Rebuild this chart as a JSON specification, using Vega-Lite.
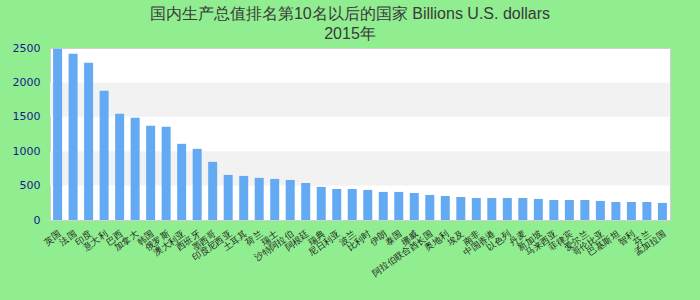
{
  "$schema": "https://vega.github.io/schema/vega-lite/v6.json",
  "width": 620,
  "height": 172,
  "autosize": "none",
  "padding": {"left": 50, "top": 48, "right": 30, "bottom": 80},
  "background": "#90EE90",
  "title": {
    "text": ["国内生产总值排名第10名以后的国家 Billions U.S. dollars", "2015年"],
    "font": "Liberation Sans",
    "fontSize": 16,
    "fontWeight": "normal",
    "color": "#3a3a3a",
    "lineHeight": 20,
    "anchor": "middle",
    "dx": -10,
    "offset": 0
  },
  "config": {
    "view": {"stroke": "#d0d0d0", "strokeWidth": 1, "fill": "white"},
    "font": "DejaVu Sans",
    "axisY": {
      "title": null,
      "grid": false,
      "domain": false,
      "ticks": false,
      "values": [0, 500, 1000, 1500, 2000, 2500],
      "format": "d",
      "labelOverlap": false,
      "labelColor": "#1a1a8a",
      "labelFontSize": 11,
      "labelPadding": 10
    }
  },
  "datasets": {
    "bands": [{"lo": 500, "hi": 1000}, {"lo": 1500, "hi": 2000}],
    "gdp": [
      {"country": "英国", "value": 2490},
      {"country": "法国", "value": 2417},
      {"country": "印度", "value": 2286},
      {"country": "意大利", "value": 1878},
      {"country": "巴西", "value": 1544},
      {"country": "加拿大", "value": 1485},
      {"country": "韩国", "value": 1369},
      {"country": "俄罗斯", "value": 1354},
      {"country": "澳大利亚", "value": 1107},
      {"country": "西班牙", "value": 1034},
      {"country": "墨西哥", "value": 845},
      {"country": "印度尼西亚", "value": 655},
      {"country": "土耳其", "value": 641},
      {"country": "荷兰", "value": 612},
      {"country": "瑞士", "value": 597},
      {"country": "沙特阿拉伯", "value": 582},
      {"country": "阿根廷", "value": 539},
      {"country": "瑞典", "value": 481},
      {"country": "尼日利亚", "value": 451},
      {"country": "波兰", "value": 451},
      {"country": "比利时", "value": 437},
      {"country": "伊朗", "value": 408},
      {"country": "泰国", "value": 408},
      {"country": "挪威", "value": 393},
      {"country": "阿拉伯联合酋长国", "value": 364},
      {"country": "奥地利", "value": 349},
      {"country": "埃及", "value": 335},
      {"country": "南非", "value": 320},
      {"country": "中国香港", "value": 320},
      {"country": "以色列", "value": 320},
      {"country": "丹麦", "value": 320},
      {"country": "新加坡", "value": 306},
      {"country": "马来西亚", "value": 291},
      {"country": "菲律宾", "value": 291},
      {"country": "爱尔兰", "value": 291},
      {"country": "哥伦比亚", "value": 277},
      {"country": "巴基斯坦", "value": 262},
      {"country": "智利", "value": 262},
      {"country": "芬兰", "value": 262},
      {"country": "孟加拉国", "value": 248}
    ]
  },
  "layer": [
    {
      "data": {"name": "bands"},
      "mark": {"type": "rect", "color": "#f2f2f2"},
      "encoding": {
        "y": {"field": "lo", "type": "quantitative", "scale": {"domain": [0, 2500], "nice": false}},
        "y2": {"field": "hi"}
      }
    },
    {
      "data": {"name": "gdp"},
      "mark": {"type": "bar", "color": "#63aaf2"},
      "encoding": {
        "x": {
          "field": "country",
          "type": "nominal",
          "sort": null,
          "scale": {"paddingInner": 0.42, "paddingOuter": 0.2},
          "axis": {
            "title": null,
            "domain": false,
            "ticks": false,
            "labelAngle": -35,
            "labelFontSize": 9,
            "labelColor": "#222222",
            "labelPadding": 9,
            "labelOverlap": false
          }
        },
        "y": {
          "field": "value",
          "type": "quantitative",
          "scale": {"domain": [0, 2500], "nice": false}
        }
      }
    }
  ]
}
